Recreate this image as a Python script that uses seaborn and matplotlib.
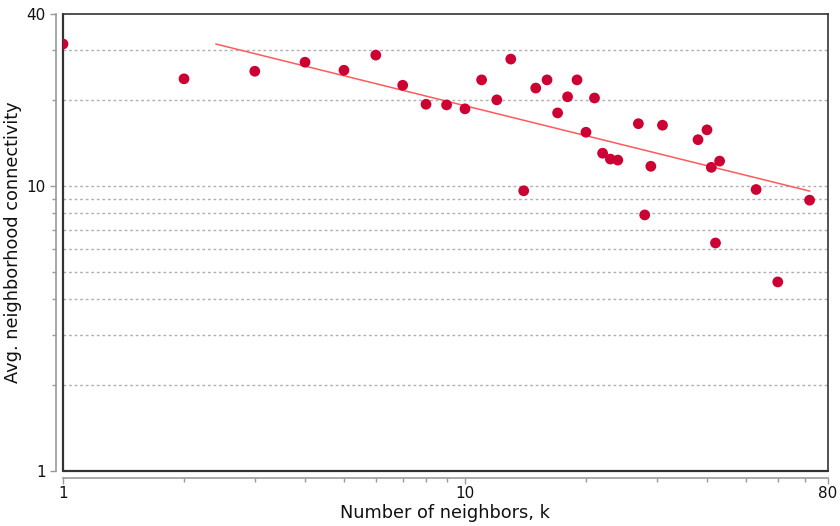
import numpy as np
import pandas as pd
import matplotlib
matplotlib.use("Agg")
import matplotlib.pyplot as plt
import seaborn as sns
from matplotlib.ticker import FixedLocator, NullFormatter

# number of neighbors k and avg. neighborhood connectivity
k = [1, 2, 3, 4, 5, 6, 7, 8, 9, 10, 11, 12, 13, 14, 15, 16, 17, 18, 19,
     20, 21, 22, 23, 24, 27, 28, 29, 31, 38, 40, 41, 42, 43, 53, 60, 72]
conn = [31.4, 23.7, 25.2, 27.1, 25.4, 28.7, 22.5, 19.3, 19.2, 18.6, 23.5,
        20.0, 27.8, 9.6, 22.0, 23.5, 18.0, 20.5, 23.5, 15.4, 20.3, 13.0,
        12.4, 12.3, 16.5, 7.9, 11.7, 16.3, 14.5, 15.7, 11.6, 6.3, 12.2,
        9.7, 4.6, 8.9]

# power-law fit shown on the chart
fit_k = [2.4, 72.1]
fit_slope = -0.349
fit_intercept = 1.6295

df = pd.DataFrame({"k": k, "conn": conn})
fit_df = pd.DataFrame({"k": fit_k})
fit_df["conn"] = 10 ** (fit_intercept + fit_slope * np.log10(fit_df["k"]))

sns.set_style("white")
plt.rcParams['font.family'] = ['DejaVu Sans']

fig = plt.figure(figsize=(8.4, 5.26), dpi=100)
ax = fig.add_axes([0.075, 0.1046, 0.9107, 0.8688])
ax.set_xscale("log")
ax.set_yscale("log")

sns.lineplot(data=fit_df, x="k", y="conn", ax=ax, color="#ff5a5a", linewidth=1.1)
sns.scatterplot(data=df, x="k", y="conn", ax=ax, color="#cc0033", s=60,
                edgecolor="none", zorder=3)

ax.set_xlim(1, 80)
ax.set_ylim(1, 40)

# gridlines at minor y positions
grid_y = [2, 3, 4, 5, 6, 7, 8, 9, 10, 20, 30]
for gy in grid_y:
    ax.axhline(gy, color="#b0b0b0", linestyle=(0, (2, 2)), linewidth=1.0, zorder=0)

ax.xaxis.set_major_locator(FixedLocator([1, 10, 80]))
ax.xaxis.set_minor_locator(FixedLocator([2, 3, 4, 5, 6, 7, 8, 9, 20, 30, 40, 50, 60, 70]))
ax.yaxis.set_major_locator(FixedLocator([1, 10, 40]))
ax.yaxis.set_minor_locator(FixedLocator([2, 3, 4, 5, 6, 7, 8, 9, 20, 30]))
ax.set_xticklabels(["1", "10", "80"])
ax.set_yticklabels(["1", "10", "40"])
ax.xaxis.set_minor_formatter(NullFormatter())
ax.yaxis.set_minor_formatter(NullFormatter())

for side in ["left", "bottom"]:
    ax.spines[side].set_position(("outward", 5))
    ax.spines[side].set_color("#999999")
    ax.spines[side].set_linewidth(1.2)
for side in ["top", "right"]:
    ax.spines[side].set_color("#333333")
    ax.spines[side].set_linewidth(1.2)

# inner frame for the left and bottom edges
ax.plot([0, 0], [0, 1], transform=ax.transAxes, color="#333333", lw=1.6, clip_on=False)
ax.plot([0, 1], [0, 0], transform=ax.transAxes, color="#333333", lw=1.6, clip_on=False)

ax.tick_params(which="both", direction="out", color="#999999", labelsize=11,
               labelcolor="#111111", bottom=True, left=True)
ax.tick_params(which="major", length=4, width=1)
ax.tick_params(which="minor", length=3, width=1)
ax.tick_params(axis="x", pad=2)

ax.set_xlabel("Number of neighbors, k", fontsize=12.8, color="#111111", labelpad=2)
ax.set_ylabel("Avg. neighborhood connectivity", fontsize=12.8, color="#111111", labelpad=3)

fig.savefig("out.png", dpi=100)
